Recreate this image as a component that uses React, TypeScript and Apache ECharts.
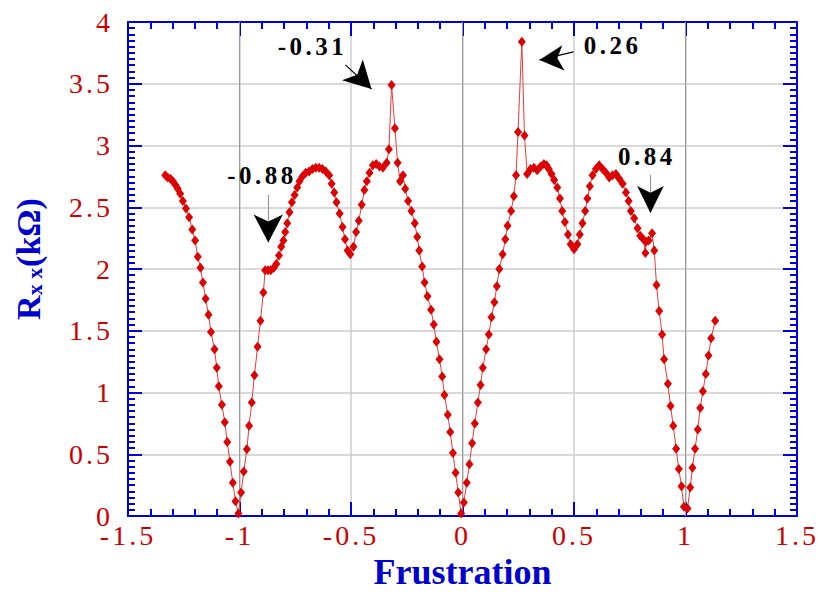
import React, { useEffect, useRef } from 'react';
import * as echarts from 'echarts';

// Frustration (x) and R_xx in kΩ (y)
const frustration = [
  -1.333, -1.322, -1.310, -1.299, -1.287, -1.277, -1.266, -1.254, -1.240, -1.226,
  -1.212, -1.199, -1.187, -1.175, -1.164, -1.152, -1.139, -1.128, -1.112, -1.102,
  -1.093, -1.079, -1.066, -1.055, -1.043, -1.030, -1.018, -1.005, -0.993, -0.981,
  -0.967, -0.957, -0.945, -0.933, -0.919, -0.906, -0.893, -0.885, -0.872, -0.860,
  -0.846, -0.835, -0.823, -0.813, -0.803, -0.795, -0.786, -0.776, -0.765, -0.753,
  -0.741, -0.731, -0.718, -0.703, -0.688, -0.673, -0.658, -0.643, -0.628, -0.613,
  -0.598, -0.587, -0.575, -0.565, -0.551, -0.538, -0.527, -0.515, -0.503, -0.489,
  -0.477, -0.465, -0.452, -0.440, -0.429, -0.417, -0.402, -0.387, -0.372, -0.357,
  -0.340, -0.330, -0.318, -0.303, -0.291, -0.280, -0.267, -0.257, -0.244, -0.229,
  -0.214, -0.203, -0.194, -0.181, -0.170, -0.157, -0.141, -0.129, -0.117, -0.103,
  -0.091, -0.081, -0.066, -0.055, -0.043, -0.031, -0.019, -0.006, 0.006, 0.019,
  0.031, 0.043, 0.055, 0.069, 0.081, 0.091, 0.106, 0.118, 0.130, 0.143,
  0.154, 0.165, 0.180, 0.192, 0.202, 0.218, 0.230, 0.240, 0.249, 0.266,
  0.278, 0.290, 0.305, 0.320, 0.335, 0.350, 0.365, 0.377, 0.387, 0.399,
  0.411, 0.425, 0.437, 0.447, 0.459, 0.473, 0.485, 0.500, 0.515, 0.526,
  0.538, 0.550, 0.560, 0.571, 0.583, 0.598, 0.613, 0.628, 0.643, 0.658,
  0.673, 0.688, 0.703, 0.718, 0.733, 0.745, 0.755, 0.770, 0.785, 0.797,
  0.811, 0.820, 0.823, 0.835, 0.850, 0.860, 0.870, 0.882, 0.895, 0.904,
  0.921, 0.933, 0.945, 0.958, 0.970, 0.982, 0.993, 1.009, 1.021, 1.031,
  1.043, 1.055, 1.066, 1.078, 1.091, 1.103, 1.115, 1.133,
];

const rxx = [
  2.76, 2.74, 2.73, 2.71, 2.68, 2.65, 2.61, 2.55, 2.49, 2.42,
  2.32, 2.23, 2.10, 2.01, 1.89, 1.76, 1.63, 1.49, 1.35, 1.20,
  1.05, 0.90, 0.76, 0.60, 0.44, 0.27, 0.12, 0.02, 0.19, 0.36,
  0.54, 0.73, 0.92, 1.14, 1.37, 1.58, 1.81, 1.99, 1.99, 1.99,
  2.01, 2.04, 2.11, 2.18, 2.23, 2.30, 2.37, 2.46, 2.54, 2.60,
  2.66, 2.71, 2.75, 2.78, 2.79, 2.81, 2.82, 2.82, 2.81, 2.79,
  2.76, 2.69, 2.62, 2.54, 2.45, 2.34, 2.24, 2.15, 2.12, 2.18,
  2.30, 2.39, 2.52, 2.64, 2.71, 2.78, 2.84, 2.85, 2.83, 2.82,
  2.86, 2.97, 3.49, 3.14, 2.86, 2.71, 2.76, 2.65, 2.55, 2.47,
  2.37, 2.26, 2.15, 2.02, 1.89, 1.78, 1.67, 1.55, 1.41, 1.27,
  1.13, 0.98, 0.82, 0.68, 0.51, 0.35, 0.19, 0.02, 0.11, 0.27,
  0.42, 0.59, 0.75, 0.92, 1.06, 1.20, 1.35, 1.47, 1.61, 1.73,
  1.86, 2.00, 2.12, 2.24, 2.35, 2.47, 2.59, 2.76, 3.11, 3.84,
  3.08, 2.77, 2.81, 2.82, 2.80, 2.83, 2.85, 2.84, 2.81, 2.77,
  2.72, 2.66, 2.57, 2.47, 2.38, 2.28, 2.20, 2.16, 2.20, 2.28,
  2.37, 2.47, 2.57, 2.67, 2.76, 2.81, 2.84, 2.81, 2.78, 2.74,
  2.76, 2.77, 2.73, 2.69, 2.62, 2.55, 2.47, 2.41, 2.33, 2.27,
  2.24, 2.13, 2.22, 2.23, 2.29, 2.15, 1.87, 1.66, 1.47, 1.27,
  1.07, 0.89, 0.73, 0.545, 0.38, 0.24, 0.075, 0.06, 0.23, 0.39,
  0.545, 0.70, 0.875, 1.01, 1.15, 1.30, 1.44, 1.58,
];

// integer-frustration reference lines (darker grid lines)
const integerLines = [-1, 0, 1];

// annotation labels and the data points they refer to
const annotationTexts = ['-0.31', '0.26', '-0.88', '0.84'];
const annotationTextAt = [[-0.673, 3.80], [0.673, 3.806], [-0.899, 2.758], [0.827, 2.907]];
const arrowStart = [[-0.525, 3.653], [0.498, 3.758], [-0.871, 2.599], [0.843, 2.76]];
const arrowHeadAt = [[-0.408, 3.457], [0.345, 3.693], [-0.871, 2.215], [0.843, 2.453]];
const arrowHeadRotate = [225, 95, 180, 180];
const arrowHeadSize = [[22, 27], [19, 24], [22, 28], [20, 27]];
const arrowShaftColor = ['#000000', '#000000', '#999999', '#999999'];

const AXIS_BLUE = '#0000dd';
const LABEL_RED = '#cc0000';
const SERIF = '"Liberation Serif", "Times New Roman", Times, serif';

export default function App() {
  const ref = useRef<HTMLDivElement>(null);

  useEffect(() => {
    if (!ref.current) return;
    const chart = echarts.init(ref.current, undefined, { renderer: 'svg' });

    const axisCommon = (minorSplit: number) => ({
      type: 'value' as const,
      interval: 0.5,
      axisLine: { show: true, onZero: false, lineStyle: { color: AXIS_BLUE, width: 2 } },
      axisTick: { show: true, inside: true, length: 14, lineStyle: { color: AXIS_BLUE, width: 2 } },
      minorTick: { show: true, splitNumber: minorSplit, length: 7, lineStyle: { color: AXIS_BLUE, width: 2 } },
      minorSplitLine: { show: false },
    });

    const option: any = {
      animation: false,
      backgroundColor: '#ffffff',
      grid: { left: 128, right: 21, top: 22, bottom: 76, containLabel: false },
      xAxis: [
        {
          ...axisCommon(5),
          min: -1.5,
          max: 1.5,
          position: 'bottom',
          splitLine: { show: true, lineStyle: { color: '#cccccc', width: 1.5 } },
          axisLabel: { color: LABEL_RED, fontFamily: SERIF, fontSize: 28, lineHeight: 20, margin: 9 },
          name: 'Frustration',
          nameLocation: 'middle',
          nameGap: 38,
          nameTextStyle: { color: '#0000cc', fontFamily: SERIF, fontWeight: 'bold', fontSize: 36 },
        },
        {
          ...axisCommon(5),
          min: -1.5,
          max: 1.5,
          position: 'top',
          splitLine: { show: false },
          axisLabel: { show: false },
        },
      ],
      yAxis: [
        {
          ...axisCommon(10),
          min: 0,
          max: 4,
          position: 'left',
          splitLine: { show: true, lineStyle: { color: '#cccccc', width: 1.5 } },
          axisLabel: { color: LABEL_RED, fontFamily: SERIF, fontSize: 28, lineHeight: 18, margin: 15 },
          name: '{m|R}{s|x x}{m|(kΩ)}',
          nameLocation: 'middle',
          nameGap: 83,
          nameTextStyle: {
            color: '#0000cc',
            fontFamily: SERIF,
            fontWeight: 'bold',
            fontSize: 34,
            padding: [0, 0, 0, 20],
            rich: {
              m: { color: '#0000cc', fontFamily: SERIF, fontWeight: 'bold', fontSize: 34, lineHeight: 40, verticalAlign: 'bottom' },
              s: { color: '#0000cc', fontFamily: SERIF, fontWeight: 'bold', fontSize: 22, lineHeight: 24, verticalAlign: 'bottom', padding: [0, 1, 0, 0] },
            },
          },
        },
        {
          ...axisCommon(10),
          min: 0,
          max: 4,
          position: 'right',
          splitLine: { show: false },
          axisLabel: { show: false },
        },
      ],
      series: [
        {
          type: 'line',
          xAxisIndex: 0,
          yAxisIndex: 0,
          data: [],
          silent: true,
          z: 1,
          markLine: {
            silent: true,
            z: 1,
            symbol: ['none', 'none'],
            label: { show: false },
            lineStyle: { color: '#999999', width: 1, type: 'solid' },
            data: integerLines.map((v) => ({ xAxis: v })),
          },
        },
        {
          type: 'line',
          xAxisIndex: 0,
          yAxisIndex: 0,
          data: frustration.map((x, i) => [x, rxx[i]]),
          symbol: 'diamond',
          symbolSize: [8, 10],
          showAllSymbol: true,
          lineStyle: { color: '#e83a3a', width: 1 },
          itemStyle: { color: '#dd0000' },
          z: 3,
        },
        {
          type: 'line',
          xAxisIndex: 0,
          yAxisIndex: 0,
          data: [],
          silent: true,
          z: 5,
          markLine: {
            silent: true,
            z: 6,
            symbol: ['none', 'none'],
            label: { show: false },
            data: arrowStart.map((s, i) => [
              { coord: s, lineStyle: { color: arrowShaftColor[i], width: 1.2, type: 'solid' } },
              { coord: arrowHeadAt[i] },
            ]),
          },
          markPoint: {
            silent: true,
            z: 7,
            data: [
              ...arrowHeadAt.map((c, i) => ({
                coord: c,
                symbol: 'arrow',
                symbolSize: arrowHeadSize[i],
                symbolRotate: arrowHeadRotate[i],
                itemStyle: { color: '#000000' },
                label: { show: false },
              })),
              ...annotationTextAt.map((c, i) => ({
                coord: c,
                symbol: 'circle',
                symbolSize: 1,
                itemStyle: { color: 'rgba(0,0,0,0)' },
                label: {
                  show: true,
                  position: 'inside',
                  formatter: annotationTexts[i],
                  color: '#000000',
                  fontFamily: SERIF,
                  fontWeight: 'bold',
                  fontSize: 25,
                },
              })),
            ],
          },
        },
      ],
    };

    chart.setOption(option);
    return () => chart.dispose();
  }, []);

  return (
    <>
      <style>{`
        #rxx-chart text[style*="28px"] { letter-spacing: 3px; }
        #rxx-chart text[style*="25px"] { letter-spacing: 3.5px; }
      `}</style>
      <div
        id="rxx-chart"
        ref={ref}
        style={{ position: 'absolute', left: 0, top: 0, width: 818, height: 595 }}
      />
    </>
  );
}
